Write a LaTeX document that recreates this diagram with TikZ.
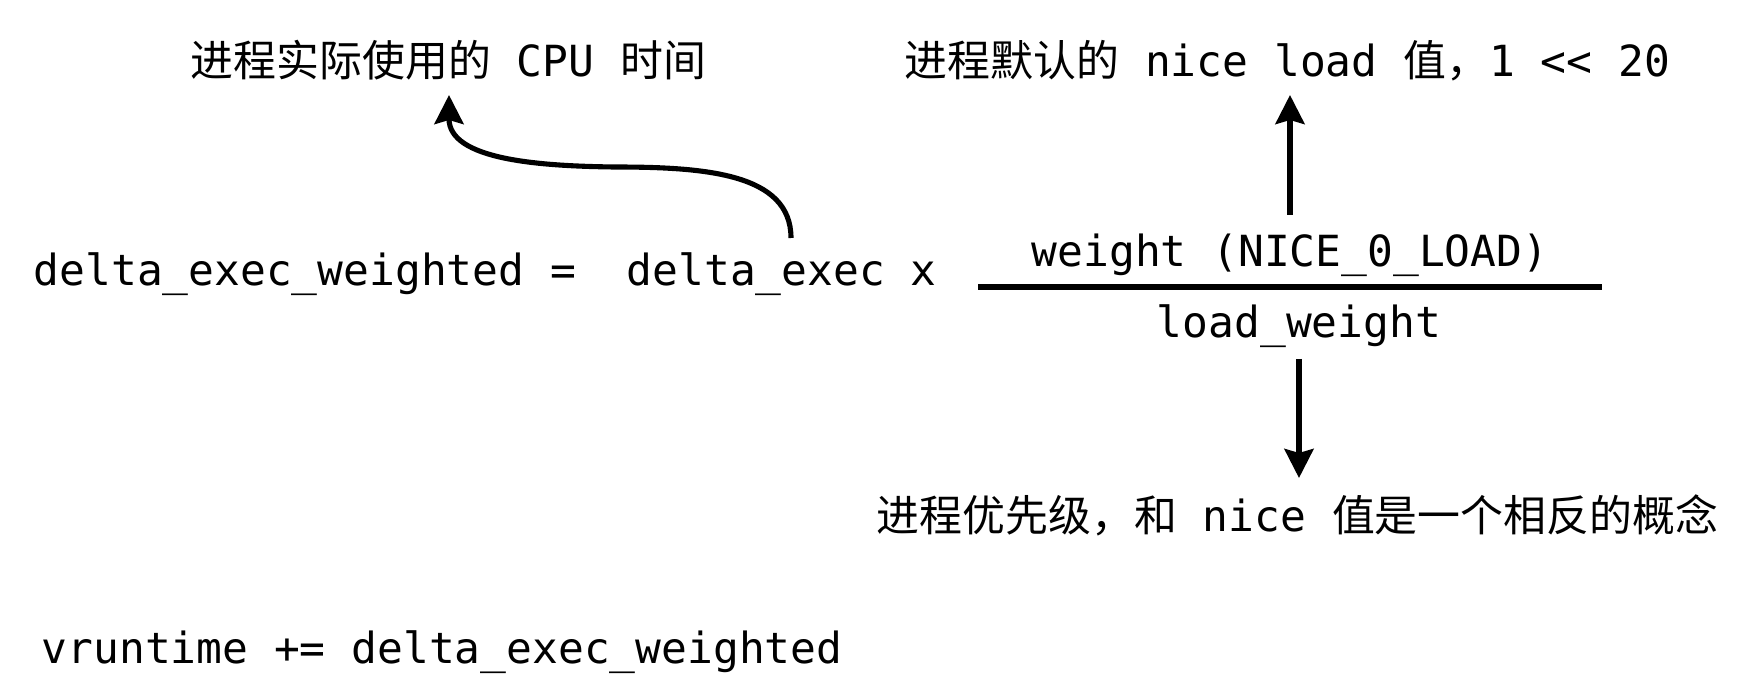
\documentclass[tikz,border=0pt]{standalone}
\usepackage{fontspec}
\setmonofont{DejaVu Sans Mono}
\newfontfamily\cjk{Noto Sans CJK SC}
\usetikzlibrary{arrows.meta,calc}
\begin{document}
\begin{tikzpicture}[x=0.01cm,y=-0.01cm,
  txt/.style={inner sep=0pt, font=\fontsize{12.2pt}{14pt}\ttfamily},
  arr/.style={line width=1.45pt, -{Stealth[length=2.9mm,width=2.9mm,inset=0.4mm]}},
  rule/.style={line width=1.45pt}]
\useasboundingbox (0,0) rectangle (1750,688);
\fill[white] (0,0) rectangle (1750,688);
% texts
\node[txt,anchor=base west] (cpu) at (190,77) {{\cjk 进程实际使用的} CPU {\cjk 时间}};
\node[txt,anchor=base west] (nload) at (904,77) {{\cjk 进程默认的} nice load {\cjk 值，}1 << 20};
\node[txt,anchor=base west] (lhs) at (33,286) {delta\_exec\_weighted =};
\node[txt,anchor=base west] (dexec) at (626,286) {delta\_exec x};
\node[txt,anchor=base] (num) at (1290,267) {weight (NICE\_0\_LOAD)};
\node[txt,anchor=base] (den) at (1299,338) {load\_weight};
\node[txt,anchor=base west] (prio) at (876,532) {{\cjk 进程优先级，和} nice {\cjk 值是一个相反的概念}};
\node[txt,anchor=base west] (vrt) at (41,663) {vruntime += delta\_exec\_weighted};
% fraction rule
\draw[rule] (978,287) -- (1602,287);
% connectors
\coordinate (cs) at ($(dexec.base west)+(165,-48)$);
\coordinate (ce) at ($(cpu.base west)+(259,18)$);
\draw[arr] (cs) .. controls +(0,-65) and +(90,0) .. (614,167)
  .. controls +(-74,-1) and +(0,65) .. (ce);
\draw[arr] ($(num.base)+(0,-52)$) -- ($(num.base|-nload.base)+(0,18)$);
\draw[arr] ($(den.base)+(0,21)$) -- ($(den.base|-prio.base)+(0,-54)$);
\end{tikzpicture}
\end{document}
